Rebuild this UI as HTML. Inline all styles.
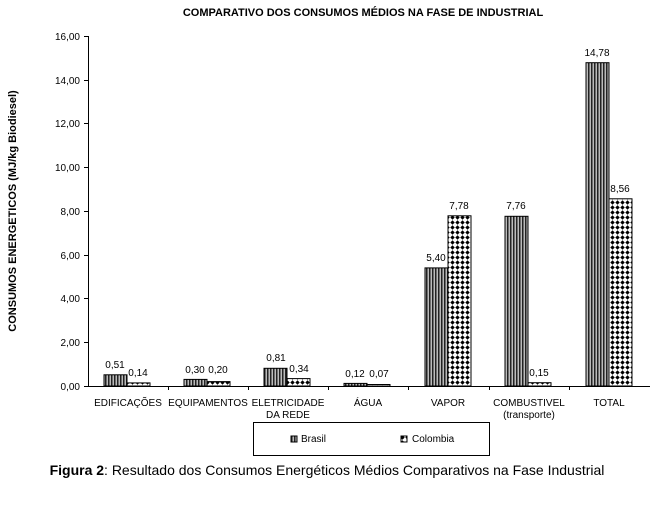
<!DOCTYPE html>
<html><head><meta charset="utf-8"><style>
body{margin:0;background:#fff;width:654px;height:504px;overflow:hidden}
svg text{font-family:"Liberation Sans",sans-serif;fill:#000}
</style></head><body>
<svg width="654" height="504" xmlns="http://www.w3.org/2000/svg">
<defs>
<pattern id="pb" width="3" height="4" patternUnits="userSpaceOnUse"><rect width="3" height="4" fill="#bbb"/><rect width="1.5" height="4" fill="#222"/></pattern>
<pattern id="pc" width="5" height="5" patternUnits="userSpaceOnUse"><rect width="5" height="5" fill="#fff"/><path d="M2.5 0.3 L4.7 2.5 L2.5 4.7 L0.3 2.5Z" fill="#000"/></pattern>
</defs>
<text x="363" y="16" font-size="11" font-weight="bold" text-anchor="middle">COMPARATIVO DOS CONSUMOS MÉDIOS NA FASE DE INDUSTRIAL</text>
<text transform="translate(16,211) rotate(-90)" font-size="11" font-weight="bold" text-anchor="middle">CONSUMOS ENERGETICOS (MJ/kg Biodiesel)</text>
<g font-size="10" text-anchor="end">
<text x="80" y="390">0,00</text><text x="80" y="346">2,00</text><text x="80" y="302">4,00</text><text x="80" y="259">6,00</text><text x="80" y="215">8,00</text><text x="80" y="171">10,00</text><text x="80" y="127">12,00</text><text x="80" y="84">14,00</text><text x="80" y="40">16,00</text>
</g>
<g stroke="#000" stroke-width="1">
<line x1="88.5" y1="36" x2="88.5" y2="387"/>
<line x1="84" y1="36.5" x2="88" y2="36.5"/><line x1="84" y1="80.5" x2="88" y2="80.5"/><line x1="84" y1="123.5" x2="88" y2="123.5"/><line x1="84" y1="167.5" x2="88" y2="167.5"/><line x1="84" y1="211.5" x2="88" y2="211.5"/><line x1="84" y1="255.5" x2="88" y2="255.5"/><line x1="84" y1="298.5" x2="88" y2="298.5"/><line x1="84" y1="342.5" x2="88" y2="342.5"/>
<line x1="84" y1="386.5" x2="650" y2="386.5"/>
<line x1="168.5" y1="386" x2="168.5" y2="390"/><line x1="248.5" y1="386" x2="248.5" y2="390"/><line x1="328.5" y1="386" x2="328.5" y2="390"/><line x1="408.5" y1="386" x2="408.5" y2="390"/><line x1="489.5" y1="386" x2="489.5" y2="390"/><line x1="569.5" y1="386" x2="569.5" y2="390"/>
</g>
<g stroke="#000" stroke-width="1">
<rect x="104" y="374.8" width="23" height="11.2" fill="url(#pb)"/><rect x="127" y="382.9" width="23" height="3.1" fill="url(#pc)"/>
<rect x="184" y="379.4" width="23" height="6.6" fill="url(#pb)"/><rect x="207" y="381.6" width="23" height="4.4" fill="url(#pc)"/>
<rect x="264" y="368.3" width="23" height="17.7" fill="url(#pb)"/><rect x="287" y="378.6" width="23" height="7.4" fill="url(#pc)"/>
<rect x="344" y="383.4" width="23" height="2.6" fill="url(#pb)"/><rect x="367" y="384.5" width="23" height="1.5" fill="url(#pc)"/>
<rect x="425" y="267.9" width="23" height="118.1" fill="url(#pb)"/><rect x="448" y="215.8" width="23" height="170.2" fill="url(#pc)"/>
<rect x="505" y="216.3" width="23" height="169.7" fill="url(#pb)"/><rect x="528" y="382.7" width="23" height="3.3" fill="url(#pc)"/>
<rect x="586" y="62.7" width="23" height="323.3" fill="url(#pb)"/><rect x="609" y="198.8" width="23" height="187.2" fill="url(#pc)"/>
</g>
<g font-size="10" text-anchor="middle">
<text x="115" y="368">0,51</text><text x="138" y="376">0,14</text>
<text x="195" y="373">0,30</text><text x="218" y="373">0,20</text>
<text x="276" y="361">0,81</text><text x="299" y="372">0,34</text>
<text x="355" y="377">0,12</text><text x="379" y="377">0,07</text>
<text x="436" y="261">5,40</text><text x="459" y="209">7,78</text>
<text x="516" y="209">7,76</text><text x="539" y="376">0,15</text>
<text x="597" y="56">14,78</text><text x="620" y="192">8,56</text>
<text x="128" y="406">EDIFICAÇÕES</text><text x="208" y="406">EQUIPAMENTOS</text>
<text x="288" y="406">ELETRICIDADE</text><text x="288" y="418">DA REDE</text>
<text x="368" y="406">ÁGUA</text><text x="448" y="406">VAPOR</text>
<text x="529" y="406">COMBUSTIVEL</text><text x="529" y="418">(transporte)</text>
<text x="609" y="406">TOTAL</text>
</g>
<rect x="253.5" y="422.5" width="236" height="33" fill="#fff" stroke="#000"/>
<rect x="291" y="436" width="6" height="6" fill="url(#pb)" stroke="#000"/>
<text x="301" y="442" font-size="10">Brasil</text>
<rect x="401" y="436" width="6" height="6" fill="url(#pc)" stroke="#000"/>
<text x="412" y="442" font-size="10">Colombia</text>
<text x="327" y="475" font-size="14" text-anchor="middle"><tspan font-weight="bold">Figura 2</tspan>: Resultado dos Consumos Energéticos Médios Comparativos na Fase Industrial</text>
</svg>
</body></html>
